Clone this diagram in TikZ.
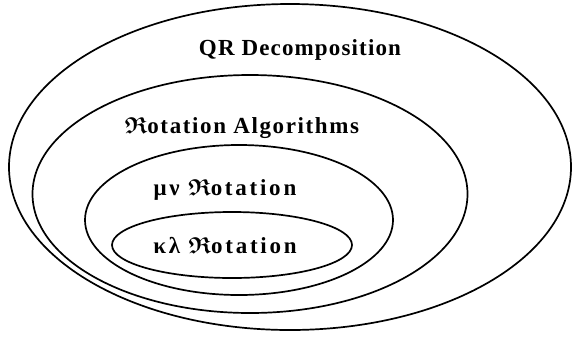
\documentclass[tikz,border=0pt]{standalone}
\usepackage{amsmath,amssymb}
\usepackage{fontspec}
\setmainfont{Liberation Serif}
\newfontfamily\lsA{Liberation Serif}[LetterSpace=5]
\newfontfamily\lsB{Liberation Serif}[LetterSpace=7]
\newfontfamily\lsC{Liberation Serif}[LetterSpace=12]
\usetikzlibrary{shapes.geometric}
\begin{document}
\begin{tikzpicture}[x=1pt,y=-1pt,
  ring/.style={draw,ellipse,line width=1.7pt,inner sep=0pt},
  lbl/.style={anchor=base,inner sep=0pt}]
\useasboundingbox (0,0) rectangle (572,338);
\node[ring,minimum width=562pt,minimum height=326pt] (qr) at (290,167) {};
\node[ring,minimum width=435pt,minimum height=238pt] (rot) at (250,194) {};
\node[ring,minimum width=308pt,minimum height=150pt] (mn) at (239,220) {};
\node[ring,minimum width=240pt,minimum height=66pt] (kl) at (232,245) {};
\node[lbl,font=\lsA\bfseries\fontsize{23}{25}\selectfont] (tqr) at (300,55) {QR Decomposition};
\node[lbl,font=\lsB\bfseries\fontsize{23}{25}\selectfont] (trot) at (242,133) {$\boldsymbol{\mathfrak{R}}$otation Algorithms};
\node[lbl,font=\lsC\bfseries\fontsize{23}{25}\selectfont] (tmn) at (225,195) {μν $\boldsymbol{\mathfrak{R}}$otation};
\node[lbl,font=\lsC\bfseries\fontsize{23}{25}\selectfont] (tkl) at (225,253) {κλ $\boldsymbol{\mathfrak{R}}$otation};
\end{tikzpicture}
\end{document}
